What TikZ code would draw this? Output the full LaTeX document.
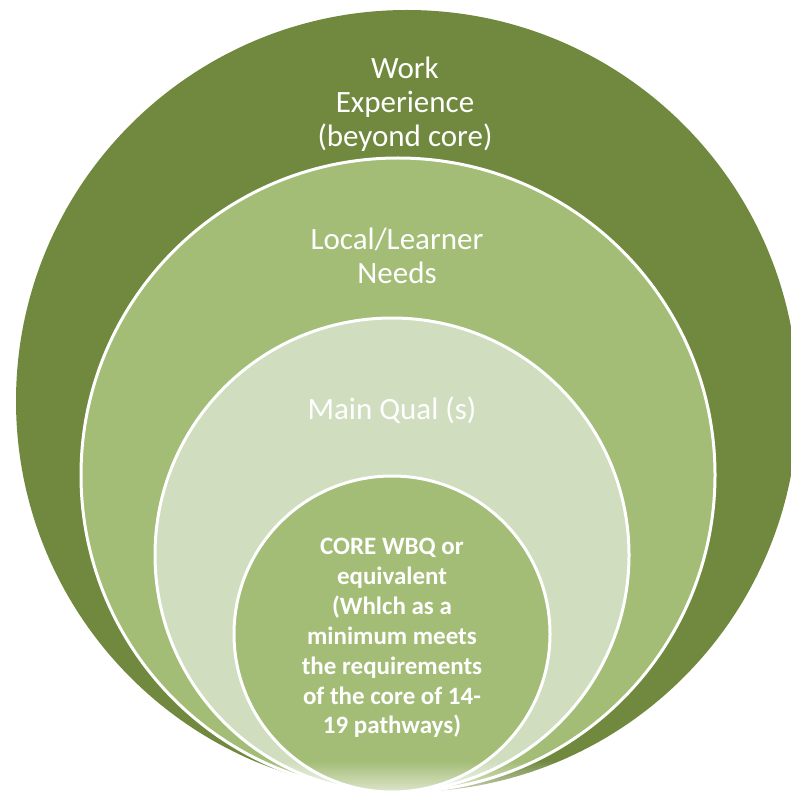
\documentclass[tikz,border=0pt]{standalone}
\usepackage{fontspec}
\setmainfont{Carlito}
\definecolor{dk}{RGB}{113,137,63}
\definecolor{md}{RGB}{163,188,118}
\definecolor{lt}{RGB}{208,222,191}
\begin{document}
\begin{tikzpicture}[x=1pt,y=-1pt,
  ring/.style={draw=white, line width=3pt},
  lbl/.style={text=white, align=center, font=\fontsize{31}{34}\selectfont, inner sep=0pt},
  corelbl/.style={text=white, align=center, font=\fontsize{25}{29.9}\selectfont\bfseries, inner sep=0pt}]
\useasboundingbox (0,0) rectangle (791,791);
\begin{scope}
  \clip (0,0) rectangle (791,791);
  \fill[dk] (407,401) circle (391);
  \filldraw[fill=md, ring] (398,475) circle (317);
  \filldraw[fill=lt, ring] (392,555) circle (237);
  \filldraw[fill=md, ring] (392,634) circle (158);
  \foreach \i in {0,...,15} {
    \fill[white, opacity=\i/15*0.6] (0,760+2*\i) rectangle (791,762+2*\i);
  }
\end{scope}
\node[lbl] (work) at (405,104) {Work\\Experience\\(beyond core)};
\node[lbl] (local) at (397,256) {Local/Learner\\Needs};
\node[lbl] (main) at (392,410) {Main Qual (s)};
\node[corelbl] (core) at (392,638) {CORE WBQ or\\equivalent\\(Whlch as a\\minimum meets\\the requirements\\of the core of 14-\\19 pathways)};
\end{tikzpicture}
\end{document}
